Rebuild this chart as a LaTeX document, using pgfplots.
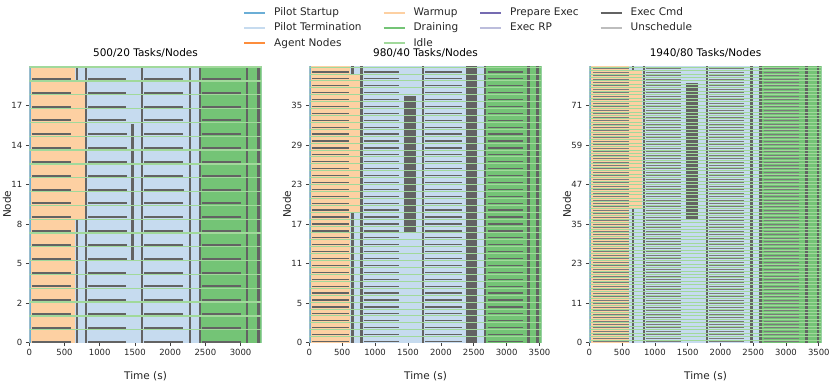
\documentclass[border=0pt]{standalone}
\usepackage{fontspec}
\setmainfont{DejaVu Sans}
\usepackage{pgfplots}
\pgfplotsset{compat=1.18}
\usepackage{pgfplotstable}

\definecolor{startup}{HTML}{6BAED6}
\definecolor{term}{HTML}{C6DBEF}
\definecolor{agent}{HTML}{FD8D3C}
\definecolor{warmup}{HTML}{FDD0A2}
\definecolor{drain}{HTML}{74C476}
\definecolor{idle}{HTML}{A1D99B}
\definecolor{prep}{HTML}{756BB1}
\definecolor{execrp}{HTML}{BCBDDC}
\definecolor{cmd}{HTML}{636363}
\definecolor{unsched}{HTML}{BDBDBD}

\newcommand{\rect}[5]{\addplot[fill=#1, draw=none, forget plot] coordinates {(#2,#4) (#3,#4) (#3,#5) (#2,#5)} -- cycle;}

% node, task segments (start end) x4
\pgfplotstableread{
n s1 e1 s2 e2 s3 e3 s4 e4
0 34 594 832 1377 1634 2180 2456 3001
1 34 594 832 1377 1634 2180 2456 3001
2 34 594 832 1377 1634 2180 2456 3001
3 34 594 832 1377 1634 2180 2456 3001
4 34 594 832 1377 1634 2180 2456 3001
5 34 594 832 1377 1634 2180 2456 3001
6 34 594 832 1390 1634 2180 2456 3001
7 34 594 832 1390 1634 2180 2456 3001
8 34 594 832 1390 1634 2180 2456 3001
9 34 594 832 1390 1634 2180 2456 3001
10 34 594 832 1390 1634 2180 2456 3001
11 34 594 832 1390 1634 2195 2456 3001
12 34 594 832 1390 1634 2180 2456 3001
13 34 594 832 1390 1634 2180 2456 3001
14 34 594 832 1390 1634 2180 2456 3001
15 34 594 832 1390 1634 2180 2456 3001
16 34 594 832 1377 1634 2180 2456 3001
17 34 594 832 1377 1634 2180 2456 3001
18 34 594 832 1377 1634 2180 2456 3001
19 34 594 832 1377 1634 2180 2456 3001
}\tA

\pgfplotstableread{
n s1 e1 s2 e2 s3 e3 s4 e4
0 40 597 825 1371 1761 2318 2712 3254
1 40 597 825 1371 1761 2318 2712 3254
2 40 597 825 1371 1761 2318 2712 3254
3 40 597 825 1371 1761 2318 2712 3254
4 40 597 825 1371 1761 2318 2712 3254
5 40 597 825 1371 1761 2318 2712 3254
6 40 597 825 1371 1761 2318 2712 3254
7 40 597 825 1371 1761 2318 2712 3254
8 40 597 825 1371 1761 2318 2712 3254
9 40 597 825 1371 1761 2318 2712 3254
10 40 597 825 1371 1761 2318 2712 3254
11 40 597 825 1371 1761 2318 2712 3254
12 40 597 825 1371 1761 2318 2712 3254
13 40 597 825 1371 1761 2318 2712 3254
14 40 597 825 1371 1761 2318 2712 3254
15 40 597 825 1371 1761 2318 2712 3254
16 40 597 825 1371 1761 2318 2712 3254
17 40 597 825 1371 1761 2318 2712 3254
18 40 597 825 1371 1761 2318 2712 3254
19 40 597 825 1371 1761 2318 2712 3254
20 40 597 825 1371 1761 2318 2712 3254
21 40 597 825 1371 1761 2318 2712 3254
22 40 597 825 1371 1761 2318 2712 3254
23 40 597 825 1371 1761 2318 2712 3254
24 40 597 825 1371 1761 2318 2712 3254
25 40 597 825 1371 1761 2318 2712 3254
26 40 597 825 1371 1761 2318 2712 3254
27 40 597 825 1371 1761 2318 2712 3254
28 40 597 825 1371 1761 2318 2712 3254
29 40 597 825 1371 1761 2318 2712 3254
30 40 597 825 1371 1761 2318 2712 3254
31 40 597 825 1371 1761 2318 2712 3254
32 40 597 825 1371 1761 2318 2712 3254
33 40 597 825 1371 1761 2318 2712 3254
34 40 597 825 1371 1761 2318 2712 3254
35 40 597 825 1371 1761 2318 2712 3254
36 40 597 825 1371 1761 2318 2712 3254
37 40 597 825 1371 1761 2318 2712 3254
38 40 597 825 1371 1761 2318 2712 3254
39 40 597 825 1371 1761 2318 2712 3254
}\tB

\pgfplotstableread{
n s1 e1 s2 e2 s3 e3 s4 e4
0 53 609 862 1404 1823 2366 2660 3204
1 53 609 862 1404 1823 2366 2660 3204
2 53 609 862 1404 1823 2366 2660 3204
3 53 609 862 1404 1823 2366 2660 3204
4 53 609 862 1404 1823 2366 2660 3204
5 53 609 862 1404 1823 2366 2660 3204
6 53 609 862 1404 1823 2366 2660 3204
7 53 609 862 1404 1823 2366 2660 3204
8 53 609 862 1404 1823 2366 2660 3204
9 53 609 862 1404 1823 2366 2660 3204
10 53 609 862 1404 1823 2366 2660 3204
11 53 609 862 1404 1823 2366 2660 3204
12 53 609 862 1404 1823 2366 2660 3204
13 53 609 862 1404 1823 2366 2660 3204
14 53 609 862 1404 1823 2366 2660 3204
15 53 609 862 1404 1823 2366 2660 3204
16 53 609 862 1404 1823 2366 2660 3204
17 53 609 862 1404 1823 2366 2660 3204
18 53 609 862 1404 1823 2366 2660 3204
19 53 609 862 1404 1823 2366 2660 3204
20 53 609 862 1404 1823 2366 2660 3204
21 53 609 862 1404 1823 2366 2660 3204
22 53 609 862 1404 1823 2366 2660 3204
23 53 609 862 1404 1823 2366 2660 3204
24 53 609 862 1404 1823 2366 2660 3204
25 53 609 862 1404 1823 2366 2660 3204
26 53 609 862 1404 1823 2366 2660 3204
27 53 609 862 1404 1823 2366 2660 3204
28 53 609 862 1404 1823 2366 2660 3204
29 53 609 862 1404 1823 2366 2660 3204
30 53 609 862 1404 1823 2366 2660 3204
31 53 609 862 1404 1823 2366 2660 3204
32 53 609 862 1404 1823 2366 2660 3204
33 53 609 862 1404 1823 2366 2660 3204
34 53 609 862 1404 1823 2366 2660 3204
35 53 609 862 1404 1823 2366 2660 3204
36 53 609 862 1404 1823 2366 2660 3204
37 53 609 862 1404 1823 2366 2660 3204
38 53 609 862 1404 1823 2366 2660 3204
39 53 609 862 1404 1823 2366 2660 3204
40 53 609 862 1404 1823 2366 2660 3204
41 53 609 862 1404 1823 2366 2660 3204
42 53 609 862 1404 1823 2366 2660 3204
43 53 609 862 1404 1823 2366 2660 3204
44 53 609 862 1404 1823 2366 2660 3204
45 53 609 862 1404 1823 2366 2660 3204
46 53 609 862 1404 1823 2366 2660 3204
47 53 609 862 1404 1823 2366 2660 3204
48 53 609 862 1404 1823 2366 2660 3204
49 53 609 862 1404 1823 2366 2660 3204
50 53 609 862 1404 1823 2366 2660 3204
51 53 609 862 1404 1823 2366 2660 3204
52 53 609 862 1404 1823 2366 2660 3204
53 53 609 862 1404 1823 2366 2660 3204
54 53 609 862 1404 1823 2366 2660 3204
55 53 609 862 1404 1823 2366 2660 3204
56 53 609 862 1404 1823 2366 2660 3204
57 53 609 862 1404 1823 2366 2660 3204
58 53 609 862 1404 1823 2366 2660 3204
59 53 609 862 1404 1823 2366 2660 3204
60 53 609 862 1404 1823 2366 2660 3204
61 53 609 862 1404 1823 2366 2660 3204
62 53 609 862 1404 1823 2366 2660 3204
63 53 609 862 1404 1823 2366 2660 3204
64 53 609 862 1404 1823 2366 2660 3204
65 53 609 862 1404 1823 2366 2660 3204
66 53 609 862 1404 1823 2366 2660 3204
67 53 609 862 1404 1823 2366 2660 3204
68 53 609 862 1404 1823 2366 2660 3204
69 53 609 862 1404 1823 2366 2660 3204
70 53 609 862 1404 1823 2366 2660 3204
71 53 609 862 1404 1823 2366 2660 3204
72 53 609 862 1404 1823 2366 2660 3204
73 53 609 862 1404 1823 2366 2660 3204
74 53 609 862 1404 1823 2366 2660 3204
75 53 609 862 1404 1823 2366 2660 3204
76 53 609 862 1404 1823 2366 2660 3204
77 53 609 862 1404 1823 2366 2660 3204
78 53 609 862 1404 1823 2366 2660 3204
79 53 609 862 1404 1823 2366 2660 3204
}\tC

\pgfplotsset{
  panel/.style={
    scale only axis, width=232.4pt, height=276.5pt,
    ymin=0, xmin=0,
    axis line style={draw=none},
    tick align=outside, major tick length=3.5pt,
    tick style={draw=black!75, line width=0.7pt},
    xtick pos=bottom, ytick pos=left,
    ticklabel style={font=\fontsize{8.5}{10}\selectfont, text=black!85},
    /pgf/number format/assume math mode=true,
    /pgf/number format/set thousands separator={},
    scaled x ticks=false,
    title style={font=\fontsize{10.5}{12}\selectfont, at={(axis description cs:0.5,1)}, anchor=base, yshift=3.5pt},
    xlabel={Time (s)}, ylabel={Node},
    label style={font=\fontsize{10.5}{12}\selectfont, text=black!85},
    xlabel style={at={(axis description cs:0.5,-0.1212)}, anchor=center},
    ylabel style={at={(axis description cs:-0.096,0.5)}, anchor=center},
  },
}

\begin{document}
\begin{tikzpicture}
\path[use as bounding box] (0,0) rectangle (830pt,-383pt);

% ---------- Panel 1 ----------
\begin{axis}[panel, at={(29.3pt,-342.5pt)}, anchor=south west,
  xmax=3300, ymax=20, title={500/20 Tasks/Nodes},
  xtick={0,500,...,3000},
  ytick={0,2.857,5.714,8.571,11.429,14.286,17.143},
  yticklabels={0,2,5,8,11,14,17},
  legend columns=4,
  legend image code/.code={\draw[#1] (0pt,0pt) -- (21pt,0pt); \path (27pt,0pt);},
  legend style={at={(0.9196,1.2199)}, anchor=north west, draw=none, fill=none,
    inner sep=0pt, row sep=1pt, font=\fontsize{10.5}{12}\selectfont,
    nodes={inner sep=2pt, text height=8pt, text depth=2.3pt, text=black!85},
    /tikz/every even column/.append style={column sep=19pt}},
  legend cell align=left,
]
\addlegendimage{startup, line width=2pt}\addlegendentry{Pilot Startup}
\addlegendimage{warmup, line width=2pt}\addlegendentry{Warmup}
\addlegendimage{prep, line width=2pt}\addlegendentry{Prepare Exec}
\addlegendimage{cmd, line width=2pt}\addlegendentry{Exec Cmd}
\addlegendimage{term, line width=2pt}\addlegendentry{Pilot Termination}
\addlegendimage{drain, line width=2pt}\addlegendentry{Draining}
\addlegendimage{execrp, line width=2pt}\addlegendentry{Exec RP}
\addlegendimage{unsched, line width=2pt}\addlegendentry{Unschedule}
\addlegendimage{agent, line width=2pt}\addlegendentry{Agent Nodes}
\addlegendimage{idle, line width=2pt}\addlegendentry{Idle}

\rect{term}{0}{3300}{0}{20}
\rect{warmup}{0}{651}{0}{20}
\rect{warmup}{651}{785}{8.9}{18.9}
\rect{drain}{2438}{3300}{0}{20}
\rect{cmd}{661}{689}{0}{8.9}
\rect{cmd}{661}{689}{18.9}{20}
\rect{cmd}{785}{815}{0}{20}
\rect{cmd}{1449}{1490}{5.9}{15.8}
\rect{cmd}{1590}{1620}{0}{20}
\rect{cmd}{2265}{2295}{0}{20}
\rect{cmd}{2410}{2438}{0}{20}
\rect{cmd}{3075}{3112}{0}{20}
\rect{cmd}{3240}{3272}{0}{20}
\rect{startup}{0}{28}{0}{20}
\addplot[xcomb, idle, line width=1.3pt, forget plot] table[x expr=3300, y expr=\thisrow{n}+0.92] {\tA};
\addplot[cmd, line width=2.0pt, forget plot, quiver={u=\thisrow{e1}-\thisrow{s1}, v=0}] table[x=s1, y expr=\thisrow{n}+0.06] {\tA};
\addplot[cmd, line width=2.0pt, forget plot, quiver={u=\thisrow{e2}-\thisrow{s2}, v=0}] table[x=s2, y expr=\thisrow{n}+0.06] {\tA};
\addplot[cmd, line width=2.0pt, forget plot, quiver={u=\thisrow{e3}-\thisrow{s3}, v=0}] table[x=s3, y expr=\thisrow{n}+0.06] {\tA};
\addplot[cmd, line width=2.0pt, forget plot, quiver={u=\thisrow{e4}-\thisrow{s4}, v=0}] table[x=s4, y expr=\thisrow{n}+0.06] {\tA};
\end{axis}

% ---------- Panel 2 ----------
\begin{axis}[panel, at={(309.3pt,-342.5pt)}, anchor=south west,
  xmax=3533, ymax=40, title={980/40 Tasks/Nodes},
  xtick={0,500,...,3500},
  ytick={0,5.714,11.429,17.143,22.857,28.571,34.286},
  yticklabels={0,5,11,17,23,29,35},
]
\rect{term}{0}{3533}{0}{40}
\rect{warmup}{0}{622}{0}{40}
\rect{warmup}{622}{774}{18.9}{38.9}
\rect{drain}{2688}{3533}{0}{40}
\rect{cmd}{638}{673}{0}{18.9}
\rect{cmd}{638}{673}{38.9}{40}
\rect{cmd}{774}{809}{0}{40}
\rect{cmd}{1442}{1624}{15.9}{35.7}
\rect{cmd}{1713}{1746}{0}{40}
\rect{cmd}{2380}{2556}{0}{40}
\rect{cmd}{2657}{2688}{0}{40}
\rect{cmd}{3310}{3348}{0}{40}
\rect{cmd}{3452}{3487}{0}{40}
\rect{startup}{0}{30}{0}{40}
\addplot[xcomb, idle, line width=0.9pt, forget plot] table[x expr=3533, y expr=\thisrow{n}+0.85] {\tB};
\addplot[cmd, line width=1.3pt, forget plot, quiver={u=\thisrow{e1}-\thisrow{s1}, v=0}] table[x=s1, y expr=\thisrow{n}+0.15] {\tB};
\addplot[cmd, line width=1.3pt, forget plot, quiver={u=\thisrow{e2}-\thisrow{s2}, v=0}] table[x=s2, y expr=\thisrow{n}+0.15] {\tB};
\addplot[cmd, line width=1.3pt, forget plot, quiver={u=\thisrow{e3}-\thisrow{s3}, v=0}] table[x=s3, y expr=\thisrow{n}+0.15] {\tB};
\addplot[cmd, line width=1.3pt, forget plot, quiver={u=\thisrow{e4}-\thisrow{s4}, v=0}] table[x=s4, y expr=\thisrow{n}+0.15] {\tB};
\end{axis}

% ---------- Panel 3 ----------
\begin{axis}[panel, at={(589.3pt,-342.5pt)}, anchor=south west,
  xmax=3544, ymax=80, title={1940/80 Tasks/Nodes},
  xtick={0,500,...,3500},
  ytick={0,11.429,22.857,34.286,45.714,57.143,68.571},
  yticklabels={0,11,23,35,47,59,71},
]
\rect{term}{0}{3544}{0}{80}
\rect{warmup}{0}{608}{0}{80}
\rect{warmup}{608}{801}{38.9}{78.9}
\rect{drain}{2632}{3544}{0}{80}
\rect{cmd}{650}{684}{0}{38.9}
\rect{cmd}{650}{684}{78.9}{80}
\rect{cmd}{812}{842}{0}{80}
\rect{cmd}{1480}{1656}{35.7}{75.2}
\rect{cmd}{1775}{1808}{0}{80}
\rect{cmd}{2456}{2491}{0}{80}
\rect{cmd}{2595}{2630}{0}{80}
\rect{cmd}{3295}{3331}{0}{80}
\rect{cmd}{3468}{3503}{0}{80}
\rect{startup}{0}{30}{0}{80}
\addplot[xcomb, idle, line width=0.55pt, forget plot] table[x expr=3544, y expr=\thisrow{n}+0.75] {\tC};
\addplot[cmd!85, line width=0.8pt, forget plot, quiver={u=\thisrow{e1}-\thisrow{s1}, v=0}] table[x=s1, y expr=\thisrow{n}+0.25] {\tC};
\addplot[cmd!85, line width=0.8pt, forget plot, quiver={u=\thisrow{e2}-\thisrow{s2}, v=0}] table[x=s2, y expr=\thisrow{n}+0.25] {\tC};
\addplot[cmd!85, line width=0.8pt, forget plot, quiver={u=\thisrow{e3}-\thisrow{s3}, v=0}] table[x=s3, y expr=\thisrow{n}+0.25] {\tC};
\addplot[cmd!85, line width=0.8pt, forget plot, quiver={u=\thisrow{e4}-\thisrow{s4}, v=0}] table[x=s4, y expr=\thisrow{n}+0.25] {\tC};
\end{axis}
\end{tikzpicture}
\end{document}
